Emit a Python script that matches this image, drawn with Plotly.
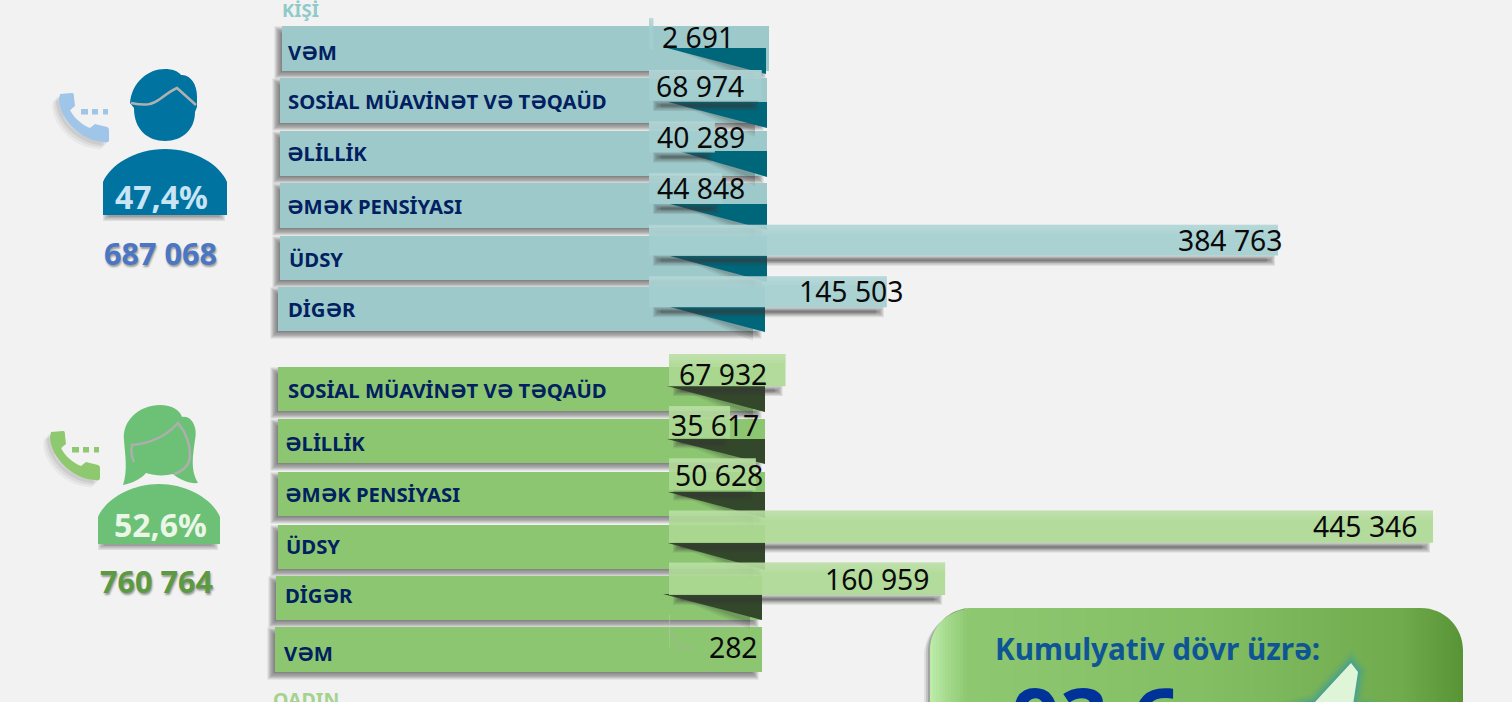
import plotly.graph_objects as go

W, H = 1512, 702

# ---- data ----
male_categories = ["VƏM", "SOSİAL MÜAVİNƏT VƏ TƏQAÜD", "ƏLİLLİK", "ƏMƏK PENSİYASI", "ÜDSY", "DİGƏR"]
male_values = [2691, 68974, 40289, 44848, 384763, 145503]
female_categories = ["SOSİAL MÜAVİNƏT VƏ TƏQAÜD", "ƏLİLLİK", "ƏMƏK PENSİYASI", "ÜDSY", "DİGƏR", "VƏM"]
female_values = [67932, 35617, 50628, 445346, 160959, 282]
male_total, female_total = "687 068", "760 764"
male_share, female_share = "47,4%", "52,6%"

# ---- layout in page pixels ----
M_BAR_X0, M_BAR_X1, M_Y0, M_Y1 = 649, 1278, 8.0, 317.5
F_BAR_X0, F_BAR_X1, F_Y0, F_Y1 = 669, 1433, 344.0, 657.0
m_label_rects = [(282, 26, 769, 71), (280, 78, 767, 123), (280, 131, 767, 176),
                 (280, 183, 767, 228), (280, 236, 767, 280), (278, 287, 765, 331)]
f_label_rects = [(278, 367, 765, 411), (278, 419, 765, 463), (278, 472, 765, 516),
                 (278, 525, 765, 569), (276, 576, 762, 620), (275, 627, 762, 672)]
m_tris = [(667, 48, 766, 74), (668, 102, 767, 128), (678, 151, 767, 177),
          (670, 204, 767, 230), (670, 256, 767, 282), (670, 307, 765, 332)]
f_tris = [(667, 386, 765, 412), (667, 439, 765, 464), (668, 492, 765, 518),
          (668, 543, 765, 570), (663, 594, 762, 620)]
m_label_pos = [(288, 52), (288, 101), (287, 153), (287, 206), (289, 259), (288, 309)]
f_label_pos = [(288, 390), (285, 443), (285, 494), (286, 546), (285, 595), (284, 653)]
m_value_pos = [(697.5, 37), (700, 86), (701, 137), (701, 188), (1230, 240), (851, 291)]
f_value_pos = [(722.5, 374), (714.5, 425), (719, 475), (1364.5, 526), (876.5, 579), (733.5, 647)]

BG = "#f2f2f2"
TEAL, TEAL_BAR, TEAL_DARK = "#9ec9ca", "rgba(163,206,207,0.9)", "#00677a"
GREEN, GREEN_BAR, GREEN_DARK = "#8dc671", "rgba(172,216,146,0.9)", "#33472a"
MALE, FEMALE = "#0073a0", "#6cc177"
NAVY = "#002060"
FONT = "Noto Sans"

px = lambda x: x / W
py = lambda y: 1 - y / H
shapes, annos = [], []


def rect(x0, y0, x1, y1, color, layer="below"):
    shapes.append(dict(type="rect", xref="paper", yref="paper", x0=px(x0), x1=px(x1),
                       y0=py(y0), y1=py(y1), fillcolor=color, line_width=0, layer=layer))


def soft(x0, y0, x1, y1, blur=5, alpha=0.5, n=6, rgb="60,60,60"):
    for i in range(n):
        d = blur * (1 - 2 * i / max(n - 1, 1)) / 2
        rect(x0 - d, y0 - d, x1 + d, y1 + d, f"rgba({rgb},{alpha / n * 1.3:.3f})")


def path(cmds, fill=None, line=None, width=0, layer="below"):
    out = []
    for c in cmds:
        pts = c[1:]
        vals = [f"{px(pts[i]):.5f},{py(pts[i + 1]):.5f}" for i in range(0, len(pts), 2)]
        out.append(c[0] + " ".join(vals))
    d = dict(type="path", xref="paper", yref="paper", path=" ".join(out), layer=layer)
    d["fillcolor"] = fill or "rgba(0,0,0,0)"
    d["line"] = dict(color=line or "rgba(0,0,0,0)", width=width)
    shapes.append(d)


def poly(pts, fill):
    path([("M", *pts[0])] + [("L", *p) for p in pts[1:]] + [("Z",)], fill=fill)


def text(x, y, s, size, color, bold=False, anchor="center", shadow=None, family=FONT):
    f = dict(family=family, size=size, color=color)
    if bold:
        f["weight"] = "bold"
    if shadow:
        f["shadow"] = shadow
    annos.append(dict(x=px(x), y=py(y), xref="paper", yref="paper", text=s, showarrow=False,
                      xanchor=anchor, yanchor="middle", font=f, borderpad=0, borderwidth=0))


def fmt(v):
    return f"{v:,}".replace(",", " ")


def section(rects, tris, dark, fill, values, x0, scale, bar_centres, bar_h):
    for r in rects:
        soft(r[0] - 3, r[1] + 5, r[2] - 8, r[3] + 3, blur=9, alpha=0.85, n=8)
    for r in rects:
        rect(*r, fill)
    for t in tris:
        for o, a in ((9, .08), (6, .10), (3, .12)):
            poly([(t[0] + 14 - o, t[1]), (t[2] - 12, t[1]), (t[2] - 12, t[3] + o)], f"rgba(40,40,40,{a})")
        poly([(t[0], t[1]), (t[2], t[1]), (t[2], t[3])], dark)
    for v, c in zip(values, bar_centres):
        xe = x0 + v * scale
        if v > 20000:
            b = c + bar_h / 2
            soft(x0 + 8, b + 3, xe - 7, b + 6, blur=8, alpha=0.75, n=8)


# ---- bars ----
m_scale = (M_BAR_X1 - M_BAR_X0) / max(male_values)
f_scale = (F_BAR_X1 - F_BAR_X0) / max(female_values)
m_step = (M_Y1 - M_Y0) / 6
f_step = (F_Y1 - F_Y0) / 6
m_centres = [M_Y0 + m_step * (i + .5) for i in range(6)]
f_centres = [F_Y0 + f_step * (i + .5) for i in range(6)]

section(m_label_rects, m_tris, TEAL_DARK, TEAL, male_values, M_BAR_X0, m_scale, m_centres, 31)
section(f_label_rects, f_tris, GREEN_DARK, GREEN, female_values, F_BAR_X0, f_scale, f_centres, 32)

path([("M", 669, 630), ("L", 680, 647), ("L", 693, 647)], line="#a9b0a5", width=1)

for names, pos in ((male_categories, m_label_pos), (female_categories, f_label_pos)):
    for name, (x, y) in zip(names, pos):
        text(x, y, name, 20.3, NAVY, bold=True, anchor="left")
for vals, pos in ((male_values, m_value_pos), (female_values, f_value_pos)):
    for v, (x, y) in zip(vals, pos):
        text(x, y, fmt(v), 28.3, "#0a0a0a")

text(282, 10, "KİŞİ", 18.5, "#8fcac9", bold=True, anchor="left")
text(273, 699, "QADIN", 19.5, "#a3d38f", bold=True, anchor="left")

# lighter band along the top of value bars
for vals, x0, sc, cs, h in ((male_values, M_BAR_X0, m_scale, m_centres, 31),
                            (female_values, F_BAR_X0, f_scale, f_centres, 32)):
    for v, c in zip(vals, cs):
        top = c - h / 2
        for k in range(3):
            shapes.append(dict(type="rect", xref="paper", yref="paper", layer="above",
                               x0=px(x0), x1=px(x0 + v * sc), y0=py(top), y1=py(top + 3 + 3 * k),
                               fillcolor="rgba(255,255,255,0.06)", line_width=0))


# ---- phone ----
def phone(dx, dy, color):
    cmds = [("M", 60 + dx, 94 + dy), ("L", 72 + dx, 93 + dy), ("C", 74 + dx, 93 + dy, 74 + dx, 95 + dy, 74 + dx, 97 + dy),
            ("L", 75 + dx, 106 + dy), ("L", 70 + dx, 110 + dy),
            ("C", 74 + dx, 118 + dy, 82 + dx, 125 + dy, 90 + dx, 128 + dy),
            ("L", 95 + dx, 124 + dy), ("L", 107 + dx, 127 + dy), ("C", 109 + dx, 128 + dy, 109 + dx, 129 + dy, 109 + dx, 131 + dy),
            ("L", 109 + dx, 140 + dy), ("C", 109 + dx, 142 + dy, 107 + dx, 143 + dy, 104 + dx, 142 + dy),
            ("C", 82 + dx, 141 + dy, 60 + dx, 120 + dy, 59 + dx, 99 + dy), ("Z",)]
    for o, a in ((7, .05), (5, .07), (3, .09)):
        shadow = [(c[0], *[v - o if i % 2 == 0 else v + o for i, v in enumerate(c[1:])]) for c in cmds]
        path(shadow, fill=f"rgba(60,60,60,{a})")
    path(cmds, fill=color)
    for x0, x1 in ((81, 88), (92, 98), (103, 108)):
        rect(x0 + dx, 109 + dy, x1 + dx, 114.5 + dy, color)


phone(0, 0, "#9fc5e8")
phone(-9, 338, "#8fc96f")


def body(x0, x1, top, bottom, color):
    mid = (x0 + x1) / 2
    soft(x0 + 3, bottom - 1, x1 - 5, bottom + 3, blur=6, alpha=.5)
    path([("M", x0, bottom), ("L", x0, top + 33), ("C", x0 + 7, top + 16, x0 + 32, top, mid, top),
          ("C", x1 - 32, top, x1 - 7, top + 16, x1, top + 33), ("L", x1, bottom), ("Z",)], fill=color)


# ---- male icon ----
body(103, 227, 149, 215, MALE)
path([("M", 130, 103), ("C", 132, 82, 148, 69, 165, 69), ("C", 172, 69, 178, 71, 181, 75),
      ("C", 190, 74, 197, 84, 197, 96), ("L", 197, 107), ("L", 195, 112),
      ("C", 195, 130, 182, 141, 165, 141), ("C", 148, 141, 134, 130, 134, 108), ("Z",)], fill=MALE)
path([("M", 131, 103), ("C", 146, 106, 152, 105, 160, 99), ("C", 168, 93, 172, 90, 177, 88), ("L", 196, 105)],
     line="#b0b0b0", width=2.5)

# ---- female icon ----
body(98, 220, 484, 544, FEMALE)
hair = [("M", 123, 485), ("C", 128, 470, 125, 455, 124, 440), ("C", 122, 420, 140, 405, 160, 405),
        ("C", 172, 405, 180, 410, 182, 417), ("C", 192, 415, 198, 428, 195, 440),
        ("C", 193, 455, 190, 470, 198, 483), ("C", 190, 484, 180, 480, 173, 474),
        ("C", 165, 476, 155, 476, 146, 473), ("C", 140, 480, 132, 483, 123, 485), ("Z",)]
path(hair, fill=FEMALE)
path([("M", 134, 462), ("C", 131, 456, 131, 450, 132, 445), ("C", 155, 443, 170, 432, 178, 423),
      ("C", 188, 435, 190, 445, 190, 455), ("C", 190, 463, 186, 470, 174, 474)],
     line="#aeaeae", width=2.5)

text(161.5, 197, male_share, 32, "#c9e4f5", bold=True)
text(160.5, 253, male_total, 30.6, "#4a76c4", bold=True, shadow="1px 2px 2px #9a9a9a")
text(160, 524, female_share, 32, "#eaf6e6", bold=True)
text(156.5, 581, female_total, 30.6, "#5b9a42", bold=True, shadow="1px 2px 2px #9a9a9a")

# ---- cumulative panel ----
PX0, PX1, PTOP, R = 930, 1463, 608, 42
stops = [(0, (188, 236, 168)), (12, (170, 222, 148)), (36, (142, 200, 113)), (270, (132, 191, 100)),
         (470, (112, 172, 78)), (533, (88, 148, 54))]


def grad(t):
    for (a, ca), (b, cb) in zip(stops, stops[1:]):
        if t <= b:
            f = (t - a) / (b - a)
            return "rgb(%d,%d,%d)" % tuple(ca[i] + (cb[i] - ca[i]) * f for i in range(3))
    return "rgb(%d,%d,%d)" % stops[-1][1]


x = PX0
while x < PX1:
    rect(x, PTOP, min(x + 3.4, PX1), H + 5, grad(x - PX0))
    x += 3

K = R * 0.45
path([("M", PX0 - 1, PTOP - 1), ("L", PX0 + R, PTOP - 1), ("L", PX0 + R, PTOP),
      ("C", PX0 + K, PTOP, PX0, PTOP + K, PX0, PTOP + R), ("L", PX0 - 1, PTOP + R), ("Z",)], fill=BG)
path([("M", PX1 + 1, PTOP - 1), ("L", PX1 - R, PTOP - 1), ("L", PX1 - R, PTOP),
      ("C", PX1 - K, PTOP, PX1, PTOP + K, PX1, PTOP + R), ("L", PX1 + 1, PTOP + R), ("Z",)], fill=BG)
for o, a in ((6, .10), (4, .16), (2, .22)):
    path([("M", PX0, H + 5), ("L", PX0, PTOP + R), ("C", PX0, PTOP + K, PX0 + K, PTOP, PX0 + R, PTOP),
          ("C", PX0 + K - o * .6, PTOP + o * .4, PX0 - o, PTOP + K + o, PX0 - o, PTOP + R + o),
          ("L", PX0 - o, H + 5), ("Z",)], fill=f"rgba(50,50,50,{a})")

text(995, 648, "Kumulyativ dövr üzrə:", 29.7, "#0f5595", bold=True, anchor="left")
text(1012, 716, "93,6", 84, "#003399", bold=True, anchor="left")

star = [("M", 1351, 663), ("L", 1358, 672), ("L", 1353, 705), ("L", 1400, 712), ("L", 1353, 730),
        ("L", 1300, 716), ("L", 1278, 712), ("L", 1315, 702), ("Z",)]
for w, a in ((18, .10), (14, .15), (10, .25), (6, .4), (3, .6)):
    path(star, line=f"rgba(70,160,150,{a})", width=w)
path(star, fill="#dff5d8")

# ---- figure ----
fig = go.Figure()
fig.add_trace(go.Bar(y=male_categories, x=male_values, orientation="h", width=0.6,
                     marker=dict(color=TEAL_BAR, line_width=0), xaxis="x", yaxis="y", hoverinfo="skip"))
fig.add_trace(go.Bar(y=female_categories, x=female_values, orientation="h", width=0.62,
                     marker=dict(color=GREEN_BAR, line_width=0), xaxis="x2", yaxis="y2", hoverinfo="skip"))

fig.update_layout(
    width=W, height=H, autosize=False, showlegend=False,
    margin=dict(l=0, r=0, t=0, b=0, pad=0),
    paper_bgcolor=BG, plot_bgcolor="rgba(0,0,0,0)",
    xaxis=dict(domain=[px(M_BAR_X0), px(M_BAR_X1)], range=[0, max(male_values)], visible=False, anchor="y"),
    yaxis=dict(domain=[py(M_Y1), py(M_Y0)], type="category", categoryorder="array",
               categoryarray=male_categories, range=[5.5, -0.5], visible=False, anchor="x"),
    xaxis2=dict(domain=[px(F_BAR_X0), px(F_BAR_X1)], range=[0, max(female_values)], visible=False, anchor="y2"),
    yaxis2=dict(domain=[py(F_Y1), py(F_Y0)], type="category", categoryorder="array",
                categoryarray=female_categories, range=[5.5, -0.5], visible=False, anchor="x2"),
    shapes=shapes, annotations=annos,
)
fig.write_html("out.html", config=dict(displayModeBar=False),
               post_script="document.body.style.margin='0';document.body.style.overflow='hidden';"
                           "document.body.style.background='#f2f2f2';")
